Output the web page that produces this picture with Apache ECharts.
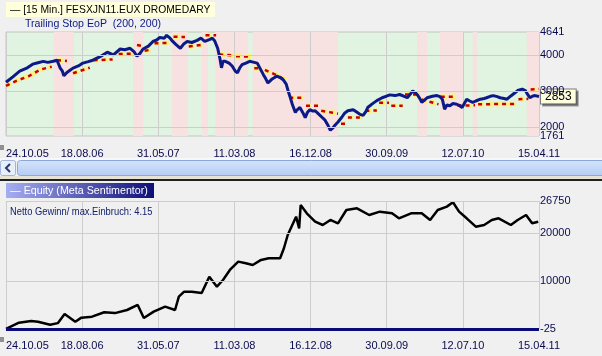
<!DOCTYPE html>
<html><head><meta charset="utf-8">
<script src="https://cdn.jsdelivr.net/npm/echarts@6/dist/echarts.min.js"></script>
<style>html,body{margin:0;padding:0;background:#f0f0f0;}#c{width:602px;height:356px;}</style>
</head><body><div id="c"></div>
<script>
const tickLabels = ['24.10.05','18.08.06','31.05.07','11.03.08','16.12.08','30.09.09','12.07.10','15.04.11'];

const priceX = [0,9,18,28,35,42,49,55,62,67,71,74,76,80,84,88,95,101,108,114,123,133,141,150,156,163,168,172,176,180,187,193,198,202,208,211,215,219,223,229,233,238,244,251,256,261,267,271,274,278,281,283,285,288,293,297,301,304,307,310,315,320,326,330,334,338,341,344,349,356,360,364,368,370,373,376,380,382,386,390,393,396,399,403,406,410,412,416,419,423,426,430,432,436,441,445,449,456,461,465,469,473,475,481,487,494,499,504,511,517,523,527,531,534,538,541,544,546,550,553,560,566,570,573,575,576,579,583,587,592,596,599,603,605,609,613,617,623,628,631,636,640,645,649,654,658,663,668,672,678,682,684,688,692,695,700];
const priceY = [3250,3400,3560,3650,3750,3790,3827,3800,3830,3860,3650,3560,3430,3520,3580,3640,3700,3780,3820,3860,3950,4080,4010,4170,4150,4190,4100,3970,4050,4170,4250,4380,4420,4490,4470,4550,4480,4380,4300,4190,4300,4380,4350,4410,4470,4380,4430,4470,4400,4190,3900,3650,3830,3830,3780,3700,3560,3510,3650,3735,3780,3830,3800,3780,3620,3460,3350,3230,3330,3420,3380,3320,3200,3050,2850,2640,2410,2480,2550,2400,2270,2420,2490,2450,2460,2380,2330,2260,2200,2050,1920,2000,2060,2150,2280,2400,2460,2490,2420,2360,2330,2450,2550,2650,2740,2820,2860,2900,2880,2910,2860,2820,2920,3010,2950,2880,2780,2690,2760,2820,2860,2880,2850,2780,2600,2500,2620,2600,2660,2640,2600,2550,2700,2780,2730,2690,2730,2780,2800,2820,2860,2880,2850,2820,2800,2780,2870,2950,3020,3060,3020,2950,2820,2870,2880,2853];

const stopX = [0,15,30,45,60,63,67,80,84,88,110,112,115,140,144,148,168,170,172,178,180,182,190,192,195,215,217,220,235,237,240,258,260,262,276,278,280,300,301,302,322,324,326,336,338,340,355,368,370,372,390,392,394,410,412,414,436,438,440,446,447,449,468,470,472,487,488,490,503,504,506,521,522,524,544,545,546,568,569,571,590,591,593,616,618,620,670,671,673,686,687,689,700];
const stopY = [3150,3300,3420,3600,3680,'-',3860,3840,'-',3500,3650,'-',3860,3880,'-',4030,4040,'-',4280,4260,'-',4120,4150,'-',4330,4340,'-',4510,4500,'-',4240,4290,'-',4550,4550,'-',4020,3990,'-',3970,3960,'-',3640,3640,'-',3590,3450,3300,'-',2820,2820,'-',2600,2600,'-',2460,2380,'-',2100,2100,'-',2270,2270,'-',2460,2470,'-',2680,2680,'-',2600,2600,'-',2910,2910,'-',2770,2640,'-',2850,2850,'-',2600,2610,'-',2640,2650,'-',2780,2790,'-',3050,3060];

const equityX = [0,2,17,33,42,58,68,77,91,99,113,129,143,159,173,181,194,209,222,227,234,244,257,267,277,285,294,305,315,324,335,345,360,365,370,376,381,385,387,395,406,416,426,436,447,461,477,491,507,516,532,546,557,567,579,587,595,605,617,628,638,647,663,672,683,691,699];
const equityY = [0,187,1300,1650,1500,850,1200,3100,1500,2350,2550,3470,3300,3950,5000,2280,3600,4650,3950,6740,7780,7780,7500,10920,8830,10230,12320,14070,13720,13370,14420,14770,14770,16860,19640,21730,23470,21000,25910,24170,22420,21730,22780,22080,24870,25220,23820,24520,24170,23130,24170,24170,22780,24870,25570,26480,24520,23130,21380,21730,22780,23130,21730,22780,23820,22080,22420];

const pinkBands = [[63,89],[167,180],[218,239],[257,265],[275,318],[324,436],[540,553],[570,600],[613,619],[684,700]];
const priceTicks = [4641,4000,3000,2000,1761];
const priceGrid = [4000,3000,2000];
const equityTicks = [26750,20000,10000,-25];
const equityGrid = [20000,10000];

const FONT = 'Liberation Sans';
const LBL = '#0a0a50';
const chart = echarts.init(document.getElementById('c'), null, {renderer:'canvas'});

const pricePts = priceX.map((x,i)=>[x, priceY[i]]);
const stopPts = stopX.map((x,i)=>[x, stopY[i]]);
const eqPts = equityX.map((x,i)=>[x, equityY[i]]);

function xAxisCfg(gi, margin){
  return {type:'value', gridIndex:gi, min:0, max:700, interval:100, z:2,
    axisLine:{show:false}, axisTick:{show:false},
    splitLine:{show:true, lineStyle:{color:'#cdcdcd', width:1}},
    axisLabel:{margin:margin, color:LBL, fontFamily:FONT, fontSize:11, alignMinLabel:'left', showMaxLabel:true,
      formatter: v => tickLabels[Math.round(v/100)]}};
}
function tickLines(vals, grid, color){
  return vals.map(v => ({yAxis:v, lineStyle:{color: grid.includes(v)? color : 'rgba(0,0,0,0)', width:1, type:'solid'},
    label:{show:true, position:'end', distance:1, formatter:String(v), color:LBL, fontFamily:FONT, fontSize:11,
      backgroundColor: v===1761 ? '#f0f0f0' : 'transparent', padding:[0,0,0,0]}}));
}
function txt(x, y, s, fill, size, sx){
  return {type:'text', x:x, y:y, scaleX:sx, z:11,
    style:{text:s, fill:fill, font:size+'px '+FONT, textVerticalAlign:'middle'}};
}

chart.setOption({
  animation:false,
  backgroundColor:'#f0f0f0',
  grid:[
    {left:6, top:32, width:533, height:104, show:true, backgroundColor:'#e1f3e1', borderColor:'#c4c4c4', borderWidth:1},
    {left:6, top:201, width:533, height:128, show:false}
  ],
  xAxis:[xAxisCfg(0,12), xAxisCfg(1,11)],
  yAxis:[
    {type:'value', gridIndex:0, min:1761, max:4641, axisLabel:{show:false}, splitLine:{show:false}, axisLine:{show:false}, axisTick:{show:false}},
    {type:'value', gridIndex:1, min:-25, max:26750, axisLabel:{show:false}, splitLine:{show:false}, axisLine:{show:false}, axisTick:{show:false}}
  ],
  series:[
    {type:'line', xAxisIndex:0, yAxisIndex:0, data:[], z:1, silent:true,
      markArea:{silent:true, itemStyle:{color:'#f8e1e1'}, data: pinkBands.map(b=>[{xAxis:b[0]},{xAxis:b[1]}])}},
    {type:'line', xAxisIndex:0, yAxisIndex:0, data:[], z:2, silent:true,
      markLine:{silent:true, symbol:'none', data: tickLines(priceTicks, priceGrid, '#cdcdcd')}},
    {type:'line', xAxisIndex:0, yAxisIndex:0, data:stopPts, z:3, symbol:'none', connectNulls:false,
      lineStyle:{color:'#fff080', width:5, type:[6,3]}},
    {type:'line', xAxisIndex:0, yAxisIndex:0, data:stopPts, z:3, symbol:'none', connectNulls:false,
      lineStyle:{color:'#c80000', width:2.5, type:[4,4]}},
    {type:'line', xAxisIndex:0, yAxisIndex:0, data:pricePts, z:4, symbol:'none',
      lineStyle:{color:'#0c1a88', width:3},
      endLabel:{show:true, formatter: p => String(p.value[1]), distance:2, color:'#000', fontFamily:FONT, fontSize:12,
        backgroundColor:'#ffffe0', borderColor:'#7a7a7a', borderWidth:1, padding:[1,4,1,4],
        shadowColor:'rgba(0,0,0,0.35)', shadowOffsetX:2, shadowOffsetY:2, shadowBlur:0}},
    {type:'line', xAxisIndex:1, yAxisIndex:1, data:[], z:2, silent:true,
      markLine:{silent:true, symbol:'none', data: tickLines(equityTicks, equityGrid.concat([26750]), '#cdcdcd').map(d=>{
        if(d.yAxis===-25){ d.lineStyle={color:'#0a0a78', width:3, type:'solid'}; } return d; })}},
    {type:'line', xAxisIndex:1, yAxisIndex:1, data:eqPts, z:4, symbol:'none',
      lineStyle:{color:'#000000', width:2.5}}
  ],
  graphic:[
    {type:'rect', shape:{x:6,y:2,width:209,height:15}, style:{fill:'#ffffdc'}, z:10},
    txt(10, 9.5, '— [15 Min.] FESXJN11.EUX DROMEDARY', '#000', 11.5, 0.9),
    txt(25, 23.5, 'Trailing Stop EoP  (200, 200)', '#0a1a80', 11.5, 0.92),
    {type:'rect', shape:{x:0,y:158,width:602,height:3}, style:{fill:'#f8f8f8'}, z:10},
    {type:'rect', shape:{x:0.5,y:160.5,width:15,height:15, r:2}, style:{fill:'#e8eefa', stroke:'#a0b4dc', lineWidth:1}, z:10},
    {type:'polyline', shape:{points:[[10,164],[6,168],[10,172]]}, style:{stroke:'#2a3a70', lineWidth:2, fill:null}, z:11},
    {type:'rect', shape:{x:17.5,y:160.5,width:600,height:15, r:3},
      style:{fill:new echarts.graphic.LinearGradient(0,0,0,1,[{offset:0,color:'#d4e4fc'},{offset:1,color:'#b4ccf4'}]), stroke:'#8aa6dc', lineWidth:1}, z:10},
    {type:'group', z:11, children:[0,2,4,6].map(d=>({type:'line', shape:{x1:316+d+0.5,y1:165,x2:316+d+0.5,y2:171}, style:{stroke:'#8aa0d0', lineWidth:1}}))},
    {type:'rect', shape:{x:0,y:176,width:602,height:3}, style:{fill:'#e6e3d6'}, z:10},
    {type:'rect', shape:{x:0,y:179,width:602,height:2}, style:{fill:'#202020'}, z:10},
    {type:'rect', shape:{x:6,y:183,width:148,height:15},
      style:{fill:new echarts.graphic.LinearGradient(0,0,1,0,[{offset:0,color:'#a6aef2'},{offset:1,color:'#0e0e78'}])}, z:10},
    txt(10, 190.5, '— Equity (Meta Sentimentor)', '#ffffff', 11.5, 0.93),
    txt(10, 212, 'Netto Gewinn/ max.Einbruch: 4.15', '#14206a', 11, 0.85),
    {type:'rect', shape:{x:0,y:145,width:4,height:5}, style:{fill:'#909090'}, z:10},
    {type:'rect', shape:{x:0,y:337,width:4,height:5}, style:{fill:'#909090'}, z:10}
  ]
});
</script></body></html>
